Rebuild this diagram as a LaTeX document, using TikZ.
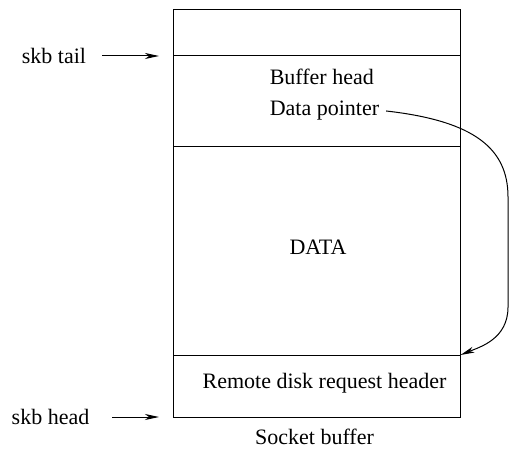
\documentclass[tikz,border=0pt]{standalone}
\usepackage{fontspec}
\setmainfont{Liberation Serif}
\usepackage{tikz}
\usetikzlibrary{
  arrows.meta,
  positioning
}

\begin{document}
\begin{tikzpicture}[
      x=0.5pt,y=0.5pt,
      every node/.style={font=\fontsize{11}{13}\selectfont},
      section/.style={
         rectangle,
         draw=black,
         line width=0.5pt,
         minimum width=143.75pt,
         inner sep=0pt,
         outer sep=0pt
      },
      ptr/.style={
         -{Stealth[length=7pt,width=3pt,inset=2pt]},
         line width=0.5pt
      },
      %text height=1.5ex,text depth=.25ex
    ]
    \useasboundingbox (0,0) rectangle (517,454);
    % the socket buffer, top to bottom
    \node (top) [section, minimum height=23pt] at (316.75,421) {};
    \node (bhead) [section, minimum height=45.5pt, below=0pt of top] {};
    \node (data) [section, minimum height=104pt, below=0pt of bhead] {};
    \node (rdr) [section, minimum height=31pt, below=0pt of data] {};
    % texts
    \node (bufhead) [anchor=west] at (262.7,377) {Buffer head};
    \node (dptr) [anchor=west] at (262.7,343) {Data pointer};
    \node (datatext) at (318,207) {DATA};
    \node (rdrtext) at (324.5,71) {Remote disk request header};
    \node (sockbuf) at (314.5,17) {Socket buffer};
    \node (skbtail) at (54,398) {skb tail};
    \node (skbhead) at (50.5,37) {skb head};
    % pointers
    \draw[ptr, shorten <=4.5pt, shorten >=7pt] (skbtail) -- (bhead.north west);
    \draw[ptr, shorten <=8pt, shorten >=7pt] (skbhead) -- (rdr.south west);
    \draw[ptr] (dptr.east) .. controls (475,333) and (508,305) .. (508,257)
       -- (508,147) .. controls (508,115) and (480,107) .. (rdr.north east);
\end{tikzpicture}
\end{document}
